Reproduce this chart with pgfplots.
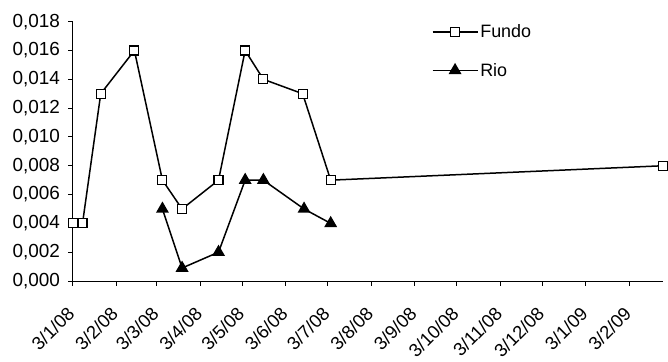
\documentclass[border=0pt]{standalone}
\usepackage{fontspec}
\setmainfont{Liberation Sans}
\usepackage{pgfplots}
\pgfplotsset{compat=1.18}
\begin{document}
\begin{tikzpicture}
\begin{axis}[
  name=ax,
  scale only axis,
  width=590.3bp, height=259.3bp,
  xmin=0, xmax=421,
  ymin=0, ymax=0.018,
  clip=false,
  axis x line*=bottom,
  axis y line*=left,
  axis line style={black, line width=0.9bp},
  tick align=outside,
  major tick length=4.5bp,
  tick style={black, line width=0.9bp},
  xtick={0,31,60,91,121,152,182,213,244,274,305,335,366,397},
  xticklabels={3/1/08,3/2/08,3/3/08,3/4/08,3/5/08,3/6/08,3/7/08,3/8/08,3/9/08,3/10/08,3/11/08,3/12/08,3/1/09,3/2/09},
  ytick={0,0.002,0.004,0.006,0.008,0.010,0.012,0.014,0.016,0.018},
  scaled y ticks=false,
  yticklabel style={anchor=east, inner sep=0pt, xshift=-8bp, font=\fontsize{19}{22}\selectfont, /pgf/number format/fixed, /pgf/number format/fixed zerofill, /pgf/number format/precision=3, /pgf/number format/use comma, /pgf/number format/assume math mode=true},
  xticklabel style={xshift=-1.5bp, yshift=-25bp, rotate=45, anchor=east, inner sep=0pt, font=\fontsize{18.5}{21}\selectfont},
  legend style={draw=none, fill=none, at={(rel axis cs:0.608,0.997)}, anchor=north west,
    font=\fontsize{18}{21}\selectfont, row sep=20bp, inner sep=0pt},
  legend cell align=left,
  legend image code/.code={\draw[mark repeat=2,mark phase=2,#1] plot coordinates {(0bp,0bp) (22.5bp,0bp) (45bp,0bp)};},
]
\addplot[black, line width=1.5bp, mark=square*, mark size=4.5bp, mark options={fill=white, line width=1.1bp, solid}]
  coordinates {(0,0.004) (7,0.004) (20,0.013) (44,0.016) (64,0.007) (78,0.005) (104,0.007) (123,0.016) (136,0.014) (164,0.013) (184,0.007) (421,0.008)};
\addlegendentry{Fundo}
\addplot[black, line width=1.5bp, mark=triangle*, mark size=6bp, mark options={fill=black, solid}]
  coordinates {(64,0.005) (78,0.0009) (104,0.002) (123,0.007) (136,0.007) (165,0.005) (184,0.004)};
\addlegendentry{Rio}
\end{axis}
\path ([xshift=-72.7bp,yshift=-81bp]ax.south west) rectangle ([xshift=5bp,yshift=21.7bp]ax.north east);
\end{tikzpicture}
\end{document}
